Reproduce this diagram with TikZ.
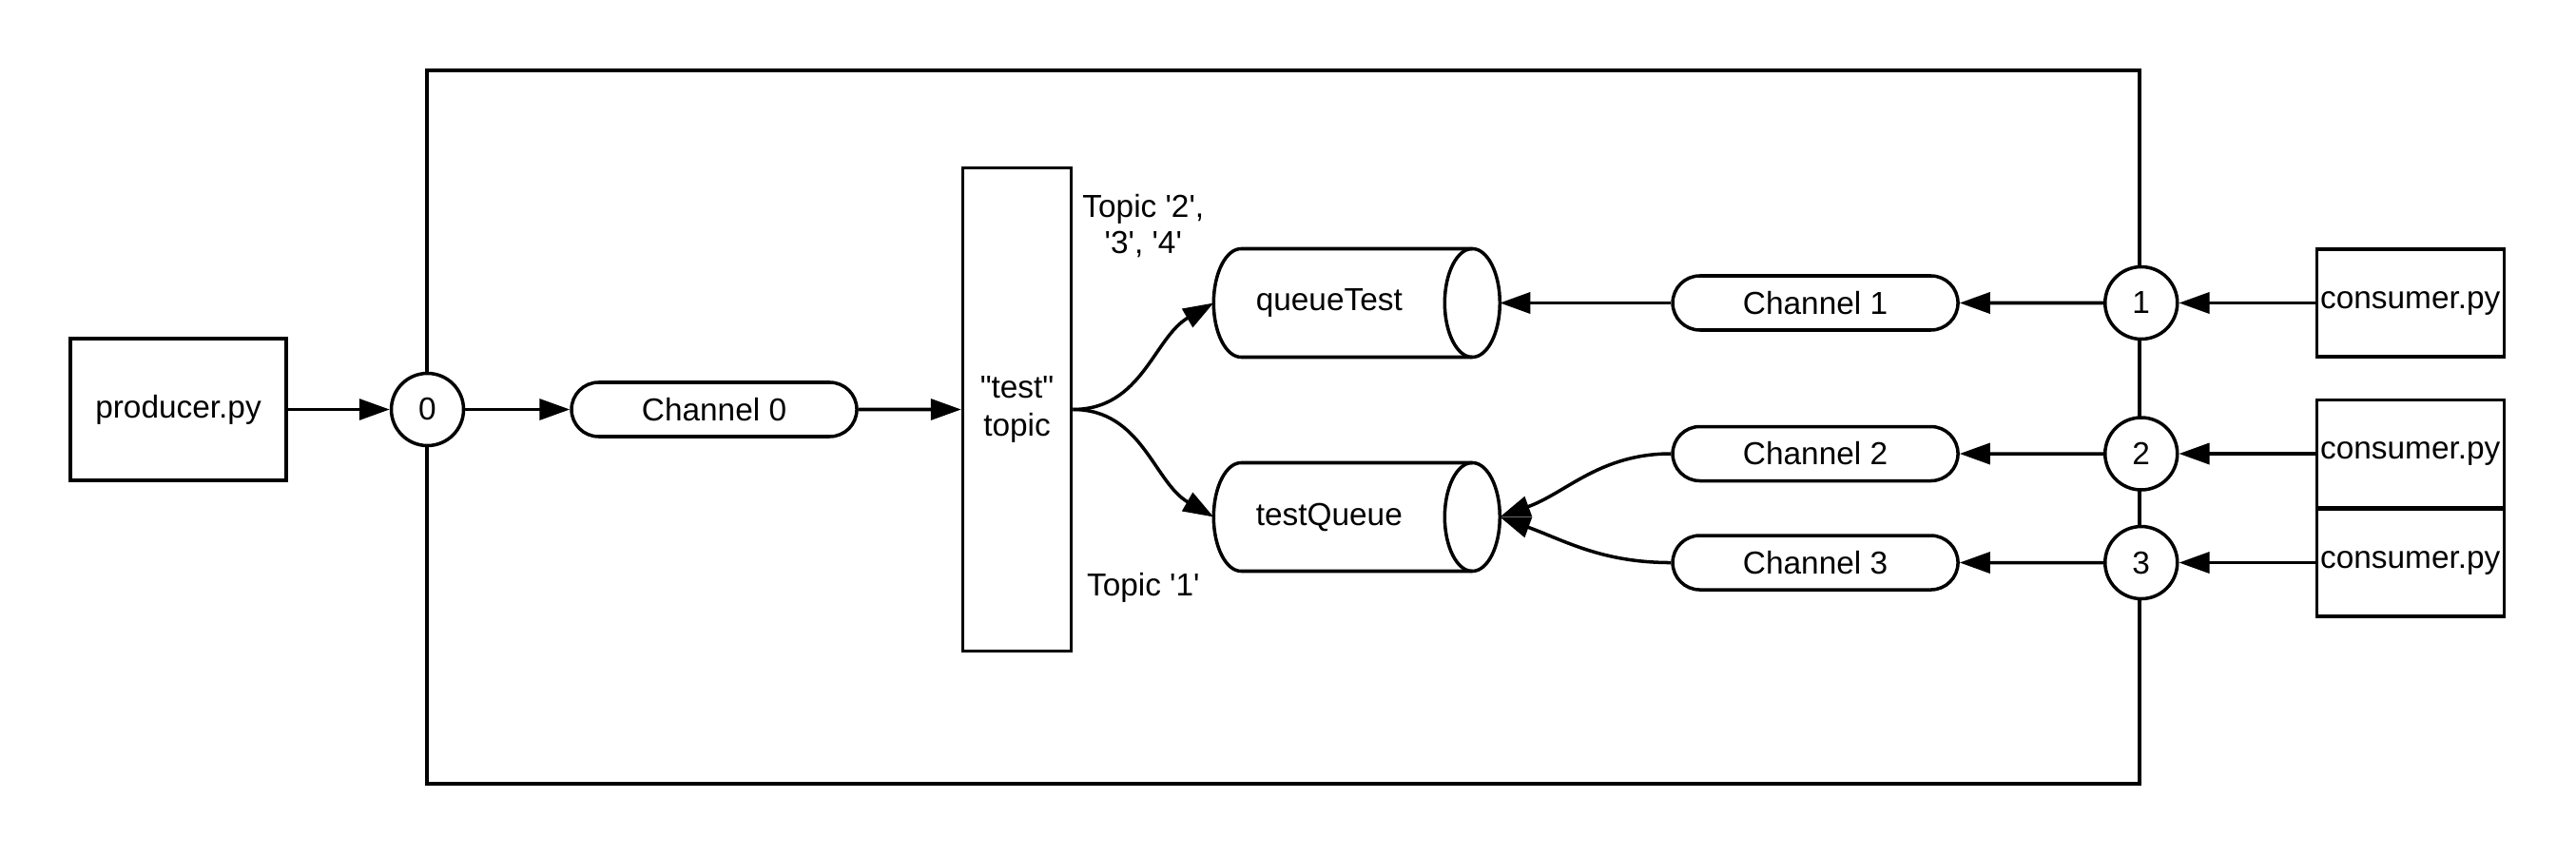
\documentclass[tikz,border=0pt]{standalone}
\usepackage{fontspec}
\setmainfont{Liberation Sans}[Ligatures=TeXOff]
\usetikzlibrary{arrows.meta,positioning,calc,shapes.geometric,shapes.misc}
\definecolor{Ink}{HTML}{000000}
\tikzset{
  basebox/.style={draw=Ink,fill=white,line width=1pt,inner sep=0pt,align=center,font=\fontsize{9.5}{11.2}\selectfont,text=Ink},
  procbox/.style={basebox,minimum width=2.27cm,minimum height=1.49cm},
  consbox/.style={basebox,minimum width=1.97cm,minimum height=1.13cm},
  topicbox/.style={basebox,minimum width=1.14cm,minimum height=5.08cm},
  chanbox/.style={basebox,rounded rectangle,minimum width=3.0cm,minimum height=0.57cm},
  portcircle/.style={basebox,circle,minimum size=0.76cm},
  queuebox/.style={basebox,draw=none,fill=none,outer sep=0pt,minimum width=3.01cm,minimum height=1.14cm},
  outline/.style={draw=Ink,line width=1pt},
  framebox/.style={draw=Ink,line width=1pt,minimum width=18.01cm,minimum height=7.50cm},
  labeltext/.style={align=center,font=\fontsize{9.5}{11}\selectfont,text=Ink},
  line/.style={-{Triangle[length=3.2mm,width=2.2mm]},draw=Ink,line width=1pt}
}
\begin{document}
\begin{tikzpicture}
  \useasboundingbox (0,0) rectangle (27.09,9.00);
  \node[framebox] (broker) at (13.495,4.51) {};

  % producer side
  \node[procbox] (producer) at (1.875,4.695) {producer.py};
  \node[portcircle,right=1.07cm of producer] (p0) {0};
  \node[chanbox,right=1.10cm of p0] (ch0) {Channel 0};
  \node[topicbox,right=1.08cm of ch0] (topic) {"test"\\topic};
  \node[labeltext] (lbltop) at ($(topic.east)+(0.74,1.93)$) {Topic '2',\\'3', '4'};
  \node[labeltext] (lblbot) at ($(topic.east)+(0.74,-1.87)$) {Topic '1'};

  % queues (cylinders drawn round the nodes)
  \node[queuebox,anchor=west] (qtest) at ($(topic.east)+(1.48,1.12)$) {\hspace*{-0.58cm}queueTest};
  \node[queuebox,anchor=west] (tqueue) at ($(topic.east)+(1.48,-1.13)$) {\hspace*{-0.58cm}testQueue};
  \foreach \q in {qtest,tqueue}{
    \draw[outline] ([xshift=-0.29cm]\q.north east) -- ([xshift=0.29cm]\q.north west)
      arc[start angle=90,end angle=270,x radius=0.29cm,y radius=0.57cm]
      -- ([xshift=-0.29cm]\q.south east);
    \draw[outline] ([xshift=-0.29cm]\q.east) ellipse[x radius=0.29cm,y radius=0.57cm];
  }

  % consumer side
  \node[chanbox,right=1.80cm of qtest] (ch1) {Channel 1};
  \node[chanbox,below=0.98cm of ch1] (ch2) {Channel 2};
  \node[chanbox,below=0.54cm of ch2] (ch3) {Channel 3};
  \node[portcircle] (p1) at (broker.east |- ch1) {1};
  \node[portcircle] (p2) at (broker.east |- ch2) {2};
  \node[portcircle] (p3) at (broker.east |- ch3) {3};
  \node[consbox,right=1.43cm of p1] (cons1) {consumer.py};
  \node[consbox,right=1.43cm of p2] (cons2) {consumer.py};
  \node[consbox,right=1.43cm of p3] (cons3) {consumer.py};

  \draw[line] (producer) -- (p0);
  \draw[line] (p0) -- (ch0);
  \draw[line] (ch0) -- (topic);
  \draw[line] (topic.east) to[out=0,in=210] (qtest.west);
  \draw[line] (topic.east) to[out=0,in=150] (tqueue.west);
  \draw[line] (ch1.west) -- (qtest.east);
  \draw[line] (ch2.west) to[out=180,in=20] (tqueue.east);
  \draw[line] (ch3.west) to[out=180,in=-20] (tqueue.east);
  \foreach \i in {1,2,3}{
    \draw[line] (p\i) -- (ch\i);
    \draw[line] (cons\i) -- (p\i);
  }
\end{tikzpicture}
\end{document}
